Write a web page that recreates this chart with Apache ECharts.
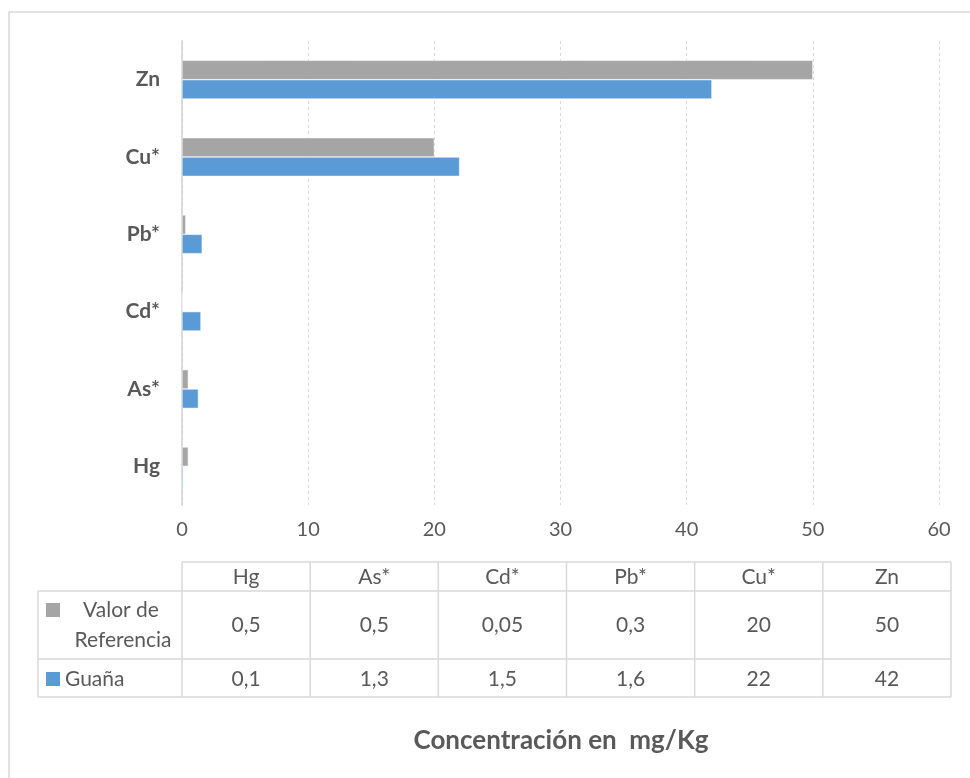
<!DOCTYPE html>
<html>
<head>
<meta charset="utf-8">
<script src="https://cdn.jsdelivr.net/npm/echarts@6/dist/echarts.min.js"></script>
<style>
  html, body { margin: 0; padding: 0; background: #fff; }
  #chart { width: 970px; height: 778px; }
</style>
</head>
<body>
<div id="chart"></div>
<script>
// Metals, listed bottom to top on the category axis
const metals = ['Hg', 'As*', 'Cd*', 'Pb*', 'Cu*', 'Zn'];
// Concentrations in mg/Kg
const referenceValues = [0.5, 0.5, 0.05, 0.3, 20, 50];
const guanaValues = [0.1, 1.3, 1.5, 1.6, 22, 42];
const referenceName = 'Valor de Referencia';
const guanaName = 'Guaña';
const axisTicks = [0, 10, 20, 30, 40, 50, 60];
const axisTitle = 'Concentración en  mg/Kg';

const GRAY = '#A5A5A5';
const BLUE = '#5B9BD5';
const TEXT = '#595959';
const LINE = '#D9D9D9';
const FONT = 'Lato, "Open Sans", sans-serif';

const chart = echarts.init(document.getElementById('chart'), null, { renderer: 'canvas' });

// Number formatting with a decimal comma
const fmt = v => String(v).replace('.', ',');

// Data table under the plot
function buildTable() {
  const els = [];
  const x0 = 182, x1 = 951, labelLeft = 38;
  const colW = (x1 - x0) / metals.length;
  const rows = [562, 591, 659, 697];
  const stroke = { stroke: LINE, lineWidth: 1.5 };
  const line = (ax, ay, bx, by) => els.push({
    type: 'line', shape: { x1: ax, y1: ay, x2: bx, y2: by }, style: stroke, silent: true
  });
  // horizontal rules
  line(x0, rows[0], x1, rows[0]);
  line(labelLeft, rows[1], x1, rows[1]);
  line(labelLeft, rows[2], x1, rows[2]);
  line(labelLeft, rows[3], x1, rows[3]);
  // vertical rules
  line(labelLeft, rows[1], labelLeft, rows[3]);
  for (let i = 0; i <= metals.length; i++) {
    line(x0 + i * colW, rows[0], x0 + i * colW, rows[3]);
  }
  const cellText = (txt, cx, cy, align) => els.push({
    type: 'text', x: cx, y: cy, silent: true,
    style: { text: txt, fill: TEXT, font: '21px ' + FONT, align: align || 'center', verticalAlign: 'middle' }
  });
  metals.forEach((m, i) => {
    const cx = x0 + (i + 0.5) * colW;
    cellText(m, cx, (rows[0] + rows[1]) / 2 + 1);
    cellText(fmt(referenceValues[i]), cx, (rows[1] + rows[2]) / 2);
    cellText(fmt(guanaValues[i]), cx, (rows[2] + rows[3]) / 2 + 1);
  });
  // legend keys inside the row headers
  els.push({ type: 'rect', shape: { x: 46, y: 603, width: 14, height: 14 }, style: { fill: GRAY }, silent: true });
  els.push({ type: 'rect', shape: { x: 46, y: 672, width: 14, height: 14 }, style: { fill: BLUE }, silent: true });
  const refWords = referenceName.split(' ');
  cellText(refWords.slice(0, 2).join(' '), 121, 610);
  cellText(refWords.slice(2).join(' '), 123, 640);
  cellText(guanaName, 65, (rows[2] + rows[3]) / 2 + 1, 'left');
  return els;
}

const option = {
  backgroundColor: '#fff',
  animation: false,
  textStyle: { fontFamily: FONT },
  grid: { left: 182, right: 31, top: 41, bottom: 273, containLabel: false },
  xAxis: {
    type: 'value',
    min: axisTicks[0],
    max: axisTicks[axisTicks.length - 1],
    interval: axisTicks[1] - axisTicks[0],
    axisLine: { show: false },
    axisTick: { show: false },
    axisLabel: { color: TEXT, fontSize: 20, fontFamily: FONT, margin: 15 },
    splitLine: { show: true, lineStyle: { color: LINE, width: 1, type: [3, 3] } }
  },
  yAxis: {
    type: 'category',
    data: metals,
    axisLine: { show: true, lineStyle: { color: '#D0D0D0', width: 1.5 } },
    axisTick: { show: false },
    axisLabel: { color: TEXT, fontSize: 21, fontWeight: 'bold', fontFamily: FONT, margin: 22 },
    splitLine: { show: false }
  },
  series: [
    {
      name: referenceName, type: 'bar', data: referenceValues,
      barGap: '0%', barCategoryGap: '50%',
      itemStyle: { color: GRAY, borderColor: '#fff', borderWidth: 0.5 }
    },
    {
      name: guanaName, type: 'bar', data: guanaValues,
      barGap: '0%', barCategoryGap: '50%',
      itemStyle: { color: BLUE, borderColor: '#fff', borderWidth: 0.5 }
    }
  ],
  graphic: [
    {
      type: 'rect', silent: true, z: -1,
      shape: { x: 9, y: 12, width: 990, height: 800 },
      style: { fill: 'none', stroke: LINE, lineWidth: 1.5 }
    },
    ...buildTable(),
    {
      type: 'text', x: 561, y: 741, silent: true,
      style: { text: axisTitle, fill: TEXT, font: 'bold 26px ' + FONT, align: 'center', verticalAlign: 'middle' }
    }
  ]
};

chart.setOption(option);
</script>
</body>
</html>
